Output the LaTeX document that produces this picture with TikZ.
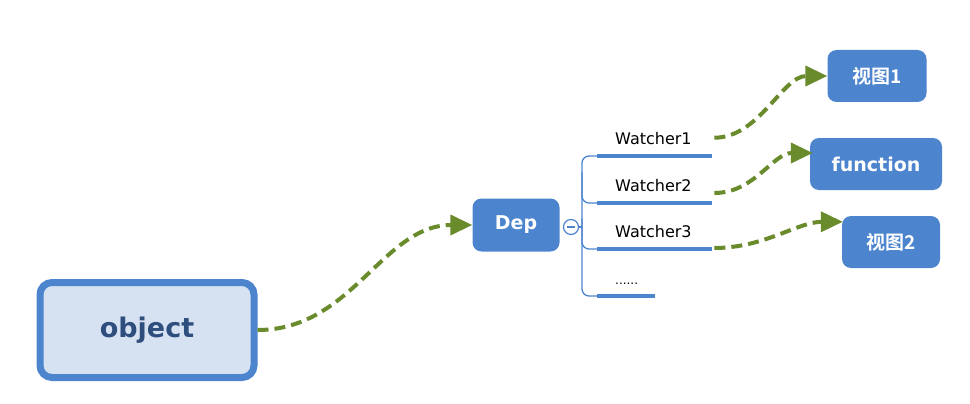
\documentclass[tikz,border=0pt]{standalone}
\usepackage{fontspec}
\setmainfont{DejaVu Sans}
\newfontfamily\cjk{Noto Sans CJK SC}[BoldFont={Noto Sans CJK SC Bold}]
\usetikzlibrary{arrows.meta, positioning, calc}
\definecolor{mapblue}{HTML}{4D84CE}
\definecolor{objfill}{HTML}{D6E2F1}
\definecolor{objtext}{HTML}{2E4E7E}
\definecolor{linkgreen}{HTML}{6A8B2C}
\tikzset{
    topicbox/.style={rectangle, fill=mapblue, rounded corners=9pt, text=white, inner sep=0pt, font=\bfseries\fontsize{19}{22}\selectfont},
    cjkbox/.style={topicbox, font=\cjk\bfseries\fontsize{19}{22}\selectfont},
    rootbox/.style={rectangle, draw=mapblue, line width=7pt, fill=objfill, rounded corners=12pt, text=objtext, minimum width=214pt, minimum height=95pt, font=\bfseries\fontsize{27}{30}\selectfont},
    watcher/.style={anchor=south west, inner xsep=18pt, inner ysep=7pt, text width=79pt, text depth=4pt, font=\fontsize{16}{19}\selectfont},
    underline/.style={draw=mapblue, line width=4pt},
    branch/.style={draw=mapblue, line width=1.3pt, rounded corners=7pt},
    link/.style={-{Triangle[length=22pt, width=20pt]}, draw=linkgreen, line width=4pt, dash pattern=on 11pt off 6pt}
}
\begin{document}
\begin{tikzpicture}[x=1pt, y=-1pt]
    \useasboundingbox (0,0) rectangle (970,404);

    \node[rootbox] (object) at (147,330) {object};
    \node[topicbox, minimum width=87pt, minimum height=53pt] (dep) at (516,225) {Dep};
    \node[circle, draw=mapblue, fill=white, line width=1.2pt, minimum size=15pt, inner sep=0pt] (toggle) at (571,227) {};
    \draw[mapblue, line width=1.2pt] ($(toggle.center)+(-4,0)$) -- ($(toggle.center)+(4,0)$);
    \coordinate (spine) at (582,227);

    % watchers
    \node[watcher] (w1) at (597,156) {Watcher1};
    \node[watcher] (w2) at (597,203) {Watcher2};
    \node[watcher] (w3) at (597,249) {Watcher3};
    \node[watcher, text width=22pt, font=\fontsize{12}{14}\selectfont] (more) at (597,296) {......};

    \draw[branch] (w1.south west) -| (spine) |- (more.south west);
    \draw[branch] (spine |- w2.north) |- (w2.south west);
    \draw[branch] (spine |- w3.north) |- (w3.south west);
    \draw[branch] (toggle) -- (spine);
    \foreach \w in {w1,w2,w3,more}
        \draw[underline] (\w.south west) -- (\w.south east);

    % targets
    \node[cjkbox, minimum width=99pt, minimum height=52pt] (v1) at (877,76) {视图1};
    \node[topicbox, minimum width=132pt, minimum height=52pt] (fn) at (876,164) {function};
    \node[cjkbox, minimum width=98pt, minimum height=52pt] (v2) at (891,242) {视图2};

    % links
    \draw[link] (object.east) .. controls +(95,0) and +(-90,0) .. (dep.west);
    \draw[link] ($(w1.east)+(2,-3)$) .. controls +(45,0) and +(-45,0) .. (v1.west);
    \draw[link] ($(w2.south east)+(2,-10)$) .. controls +(40,0) and +(-40,0) .. ($(fn.west)+(3,-11)$);
    \draw[link] ($(w3.south east)+(2,-1)$) .. controls +(50,0) and +(-45,0) .. ($(v2.north west)+(1,6)$);
\end{tikzpicture}
\end{document}
